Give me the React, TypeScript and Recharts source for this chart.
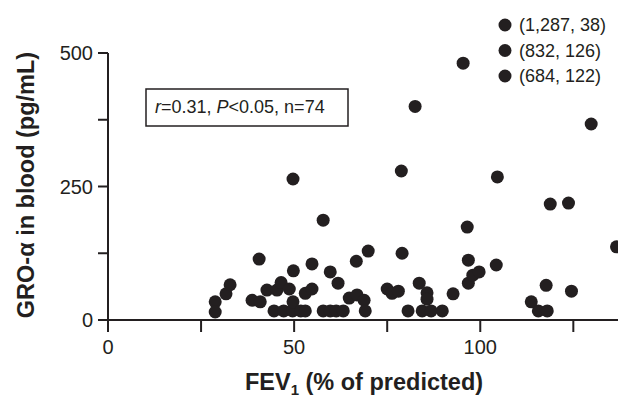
import React from 'react';
import { ScatterChart, Scatter, XAxis, YAxis, Customized, Label } from 'recharts';

const fevValues = [
  28.8, 28.8, 31.7, 32.8, 38.7, 40.6, 40.9, 42.7, 44.6, 45.4, 46.5, 47.2, 48.7, 49.6, 49.7, 49.8, 49.7,
  51.8, 53, 53, 54.8, 54.8, 57.8, 57.8, 59.7, 59.7, 61.8, 61.3, 63.2, 64.8, 66.7, 66.9, 68.8, 69.1, 69.9,
  75, 76.3, 78, 78.8, 79, 80.6, 82.5, 83.6, 84.4, 85.7, 85.7, 86.8, 89.8, 92.7, 95.4, 96.5, 96.8, 96.8,
  98, 99.7, 104.3, 104.6, 113.7, 115.6, 117.7, 118, 118.8, 123.7, 124.5, 129.8, 136.6,
];
const groValues = [
  34, 15, 49, 66, 37, 114, 34, 56, 17, 56, 70, 17, 58, 17, 34, 92, 264,
  17, 50, 17, 58, 105, 187, 17, 90, 17, 69, 17, 17, 41, 110, 47, 37, 17, 129,
  58, 50, 54, 279, 125, 17, 400, 69, 17, 51, 39, 17, 17, 49, 481, 174, 112, 69,
  84, 90, 103, 268, 34, 17, 65, 17, 217, 219, 54, 367, 137,
];

const xTicks = [0, 25, 50, 75, 100, 125];
const xTickLabels = ['0', '', '50', '', '100', ''];
const yTicks = [0, 125, 250, 375, 500];
const yTickLabels = ['0', '', '250', '', '500'];

const outlierLabels = ['(1,287, 38)', '(832, 126)', '(684, 122)'];

const data = fevValues.map((x, i) => ({ x, y: groValues[i] }));

const INK = '#231f20';
const FONT = '"Liberation Sans", Arial, Helvetica, sans-serif';

const Dot = (props: any) => {
  const { cx, cy } = props;
  if (cx == null || cy == null) return null;
  return <circle cx={cx} cy={cy} r={6.5} fill={INK} />;
};

const Overlay = () => (
  <g fontFamily={FONT} fill={INK}>
    <rect x={146} y={89} width={202} height={37} fill="#fff" stroke={INK} strokeWidth={1.5} />
    <text x={155} y={113} fontSize={18} fill={INK}>
      <tspan fontStyle="italic">r</tspan>
      <tspan>=0.31, </tspan>
      <tspan fontStyle="italic">P</tspan>
      <tspan>{'<0.05, n=74'}</tspan>
    </text>
    {outlierLabels.map((t, i) => (
      <g key={t}>
        <circle cx={505} cy={25 + i * 25.5} r={6.5} fill={INK} />
        <text x={519} y={25 + i * 25.5} dy="0.36em" fontSize={18} fill={INK}>
          {t}
        </text>
      </g>
    ))}
  </g>
);

const XTitle = () => (
  <text x={364} y={390} textAnchor="middle" fontFamily={FONT} fontWeight="bold" fontSize={23.5} fill={INK}>
    FEV
    <tspan fontSize={15} dy={5}>1</tspan>
    <tspan dy={-5}> (% of predicted)</tspan>
  </text>
);

const YTitle = () => (
  <text
    x={34}
    y={185}
    transform="rotate(-90 34 185)"
    textAnchor="middle"
    fontFamily={FONT}
    fontWeight="bold"
    fontSize={23.5}
    fill={INK}
  >
    GRO-α in blood (pg/mL)
  </text>
);

export default function App() {
  return (
    <div style={{ position: 'absolute', left: 0, top: 0, width: 618, height: 397, background: '#fff' }}>
      <ScatterChart width={618} height={397} margin={{ top: 53, right: 0, bottom: 0, left: 0 }}>
        <XAxis
          type="number"
          dataKey="x"
          domain={[0, 137]}
          ticks={xTicks}
          tickFormatter={(v: number) => xTickLabels[xTicks.indexOf(v)] ?? ''}
          height={77}
          tickSize={12}
          tickMargin={8}
          stroke={INK}
          strokeWidth={2}
          tick={{ fill: INK, fontSize: 20, fontFamily: FONT }}
          tickLine={{ stroke: INK, strokeWidth: 2 }}
          axisLine={{ stroke: INK, strokeWidth: 2 }}
          allowDataOverflow
        >
          <Label content={<XTitle />} />
        </XAxis>
        <YAxis
          type="number"
          dataKey="y"
          domain={[0, 500]}
          ticks={yTicks}
          tickFormatter={(v: number) => yTickLabels[yTicks.indexOf(v)] ?? ''}
          width={108}
          tickSize={10}
          tickMargin={5}
          stroke={INK}
          strokeWidth={2}
          tick={{ fill: INK, fontSize: 20, fontFamily: FONT }}
          tickLine={{ stroke: INK, strokeWidth: 2 }}
          axisLine={{ stroke: INK, strokeWidth: 2 }}
        >
          <Label content={<YTitle />} />
        </YAxis>
        <Scatter data={data} shape={<Dot />} isAnimationActive={false} />
        <Customized component={Overlay} />
      </ScatterChart>
    </div>
  );
}
